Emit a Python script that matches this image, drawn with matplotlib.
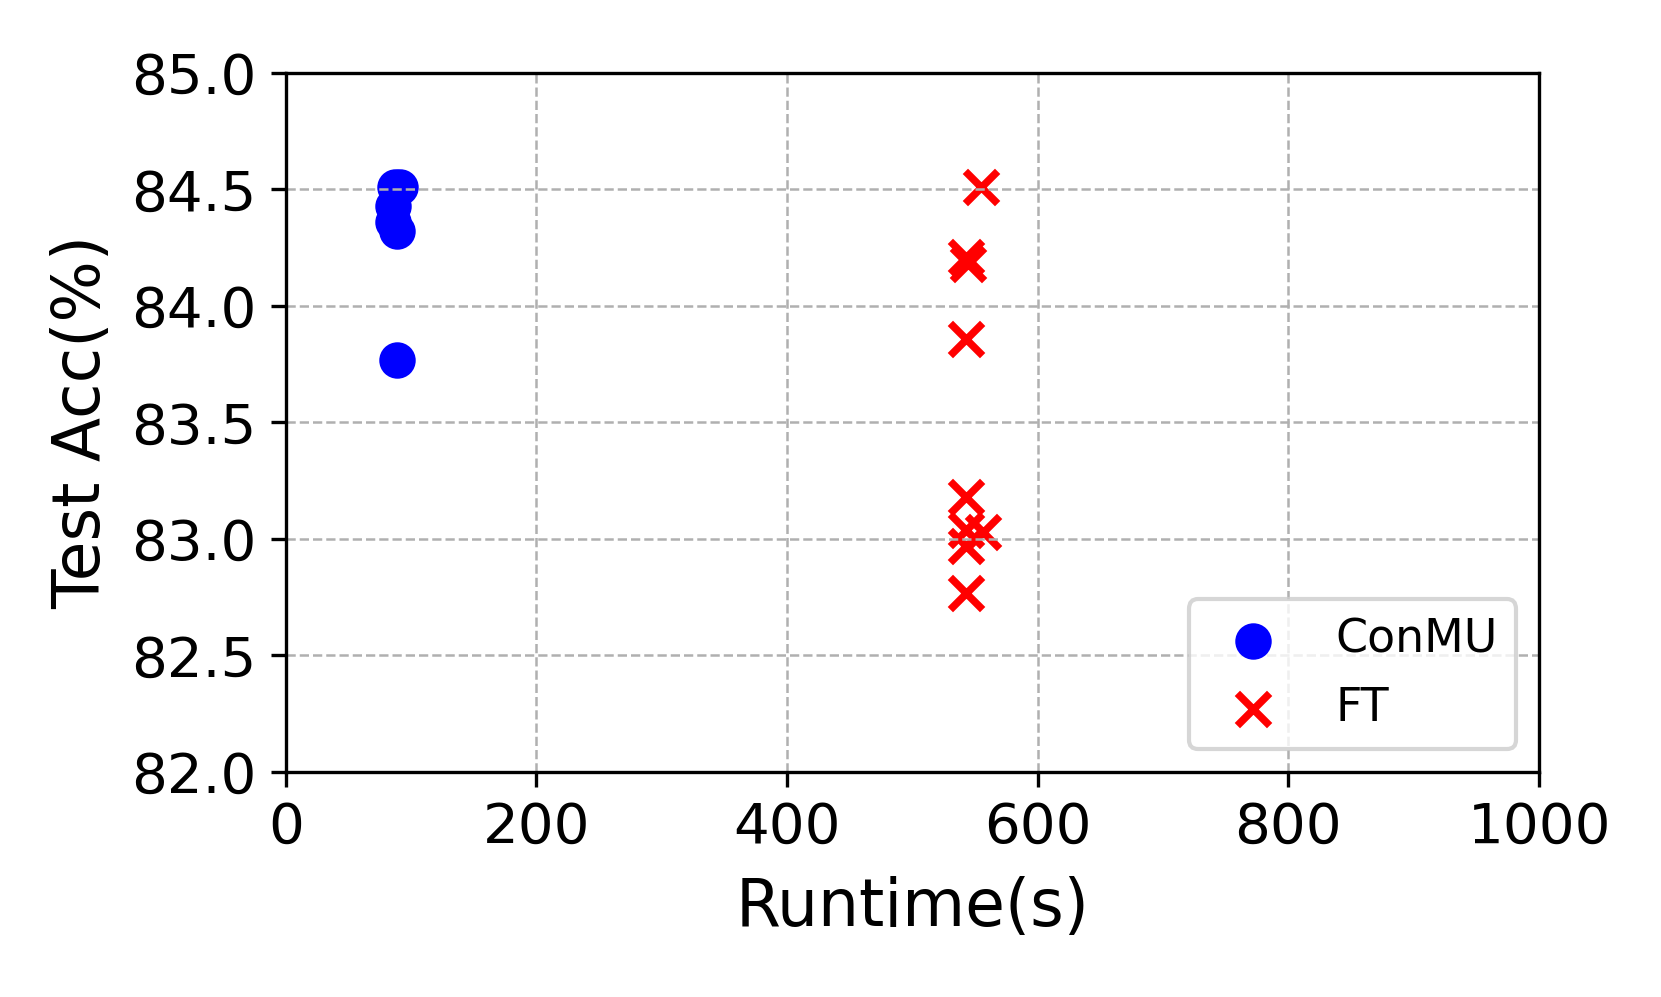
import matplotlib
matplotlib.use('Agg')
import matplotlib.pyplot as plt

# runtime (s) and test accuracy (%)
conmu_time = [87, 91, 86, 86, 89, 89]
conmu_acc = [84.51, 84.51, 84.43, 84.36, 84.32, 83.77]

ft_time = [555, 543, 544, 543, 543, 543, 556, 543, 543]
ft_acc = [84.51, 84.21, 84.18, 83.86, 83.18, 83.04, 83.03, 82.97, 82.77]

fig = plt.figure(figsize=(1661/300, 997/300), dpi=300)
ax = fig.add_subplot(111)
fig.subplots_adjust(left=0.172, right=0.9266, top=0.9268, bottom=0.2257)

ax.scatter(conmu_time, conmu_acc, c='blue', marker='o', s=60, label='ConMU')
ax.scatter(ft_time, ft_acc, c='red', marker='x', s=60, linewidths=1.8, label='FT')

ax.set_xlim(0, 1000)
ax.set_ylim(82, 85)
ax.set_xticks([0, 200, 400, 600, 800, 1000])
ax.set_yticks([82.0, 82.5, 83.0, 83.5, 84.0, 84.5, 85.0])
ax.tick_params(labelsize=13.5)
ax.grid(True, linestyle='--', linewidth=0.6, color='#b0b0b0')

ax.set_xlabel('Runtime(s)', fontsize=15.5, labelpad=5)
ax.set_ylabel('Test Acc(%)', fontsize=15.5)
ax.legend(loc='lower right', fontsize=11)

plt.savefig('out.png', dpi=300)
